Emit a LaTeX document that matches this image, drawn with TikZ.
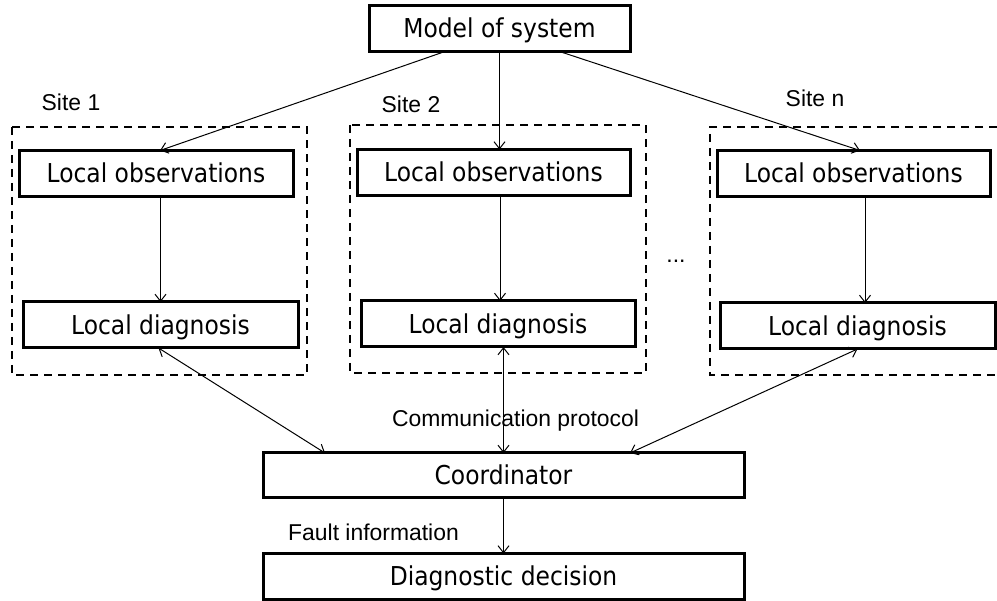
\documentclass[tikz,border=0pt]{standalone}
\usepackage{fontspec}
\setmainfont{Liberation Sans}
\newfontfamily\boxfont{DejaVu Sans Condensed}
\usetikzlibrary{arrows.meta}
\begin{document}
\begin{tikzpicture}[x=1pt,y=-1pt,
    >={Straight Barb[length=7pt,width=11pt]},
    box/.style={draw,line width=3pt,inner sep=0pt,outer sep=0pt,minimum height=46pt,
        font=\boxfont\fontsize{26}{30}\selectfont,text height=25.5pt,text depth=6.5pt},
    site/.style={draw,line width=1.5pt,dash pattern=on 8pt off 6pt},
    conn/.style={line width=1pt},
    lbl/.style={anchor=base,inner sep=0pt,font=\fontsize{22.9}{26}\selectfont}]
    \useasboundingbox (0,0) rectangle (997,601);
    \draw[site] (12,127) rectangle (307,375);
    \draw[site] (350,125) rectangle (646,373);
    \draw[site] (997,127) -- (710,127) -- (710,375) -- (997,375);
    \node[box,minimum width=261pt] (model) at (499.5,28.5) {Model of system};
    \node[box,minimum width=274pt] (obs1) at (156,173.5) {Local observations};
    \node[box,minimum width=273pt] (obs2) at (493.5,172.5) {Local observations};
    \node[box,minimum width=273pt] (obsn) at (853.5,173.5) {Local observations};
    \node[box,minimum width=275pt] (diag1) at (160.5,325) {Local diagnosis};
    \node[box,minimum width=274pt] (diag2) at (498,324) {Local diagnosis};
    \node[box,minimum width=275pt] (diagn) at (857.5,326) {Local diagnosis};
    \node[box,minimum width=481pt,minimum height=45pt] (coord) at (503.5,475.5) {Coordinator};
    \node[box,minimum width=481pt] (dec) at (503.5,576.5) {Diagnostic decision};
    \node[lbl] (site1) at (71,111) {Site 1};
    \node[lbl] (site2) at (411,113) {Site 2};
    \node[lbl] (siten) at (815,107) {Site n};
    \node[lbl] (dots) at (676,263) {...};
    \node[lbl] (comm) at (515.5,427) {Communication protocol};
    \node[lbl] (fault) at (373.5,541) {Fault information};
    \draw[conn,->] ([xshift=-54.5pt]model.south) -- ([xshift=4pt]obs1.north);
    \draw[conn,->] (model.south) -- (model.south |- obs2.north);
    \draw[conn,->] ([xshift=60pt]model.south) -- ([xshift=6.5pt]obsn.north);
    \draw[conn,->] (diag1.north |- obs1.south) -- (diag1.north);
    \draw[conn,->] ([xshift=2pt]diag2.north |- obs2.south) -- ([xshift=2pt]diag2.north);
    \draw[conn,->] ([xshift=7.5pt]diagn.north |- obsn.south) -- ([xshift=7.5pt]diagn.north);
    \draw[conn,<->] ([xshift=-2pt]diag1.south) -- ([xshift=-178.5pt]coord.north);
    \draw[conn,<->] (coord.north |- diag2.south) -- (coord.north);
    \draw[conn,<->] (diagn.south) -- ([xshift=126.5pt]coord.north);
    \draw[conn,->] (coord.south) -- (dec.north);
\end{tikzpicture}
\end{document}
